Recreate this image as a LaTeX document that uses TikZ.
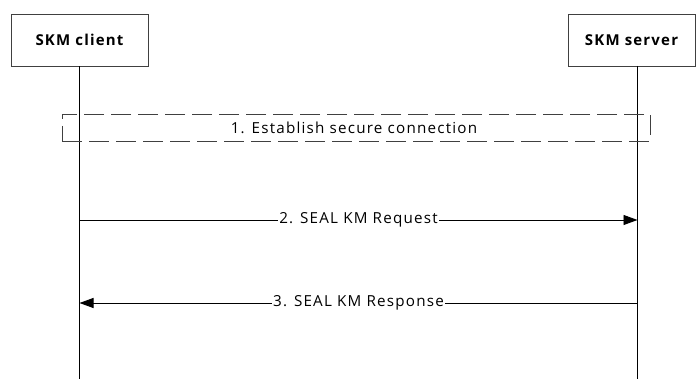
\documentclass[tikz,border=0pt]{standalone}
\usepackage{fontspec}
\setmainfont{Open Sans}[LetterSpace=8]
\usetikzlibrary{arrows.meta}
\begin{document}
\begin{tikzpicture}[x=1pt,y=-1pt,
  entity/.style={draw=black!75,line width=0.9pt,minimum width=137pt,minimum height=52pt,inner sep=0pt,font=\bfseries\fontsize{15}{17}\selectfont},
  life/.style={line width=0.9pt},
  msg/.style={line width=0.9pt,-{Triangle[length=14pt,width=10pt]}},
  lbl/.style={fill=white,inner sep=1pt,font=\fontsize{15.2}{17}\selectfont},
  grp/.style={draw=black!75,line width=0.8pt,dash pattern=on 20pt off 7pt}]
\useasboundingbox (0,0) rectangle (696,379);
\node[entity] (client) at (79.5,40) {SKM client};
\node[entity,minimum width=127pt] (server) at (631.5,40) {SKM server};
\coordinate (cend) at (79.5,379);
\coordinate (send) at (637.5,379);
\draw[life] (client.south -| cend) -- (cend);
\draw[life] (637.5,66) coordinate (stop) -- (send);
\node[grp,minimum width=588pt,minimum height=27pt,inner sep=0pt] (g1) at (356,127.5) {};
\node[font=\fontsize{15.2}{17}\selectfont] (t1) at (354,128) {1. Establish secure connection};
\coordinate (a2s) at (79.5,220);
\coordinate (a2e) at (637.5,220);
\coordinate (a3s) at (637.5,303);
\coordinate (a3e) at (79.5,303);
\draw[msg] (a2s) -- node[lbl] (l2) {2. SEAL KM Request} (a2e);
\draw[msg] (a3s) -- node[lbl] (l3) {3. SEAL KM Response} (a3e);
\end{tikzpicture}
\end{document}
